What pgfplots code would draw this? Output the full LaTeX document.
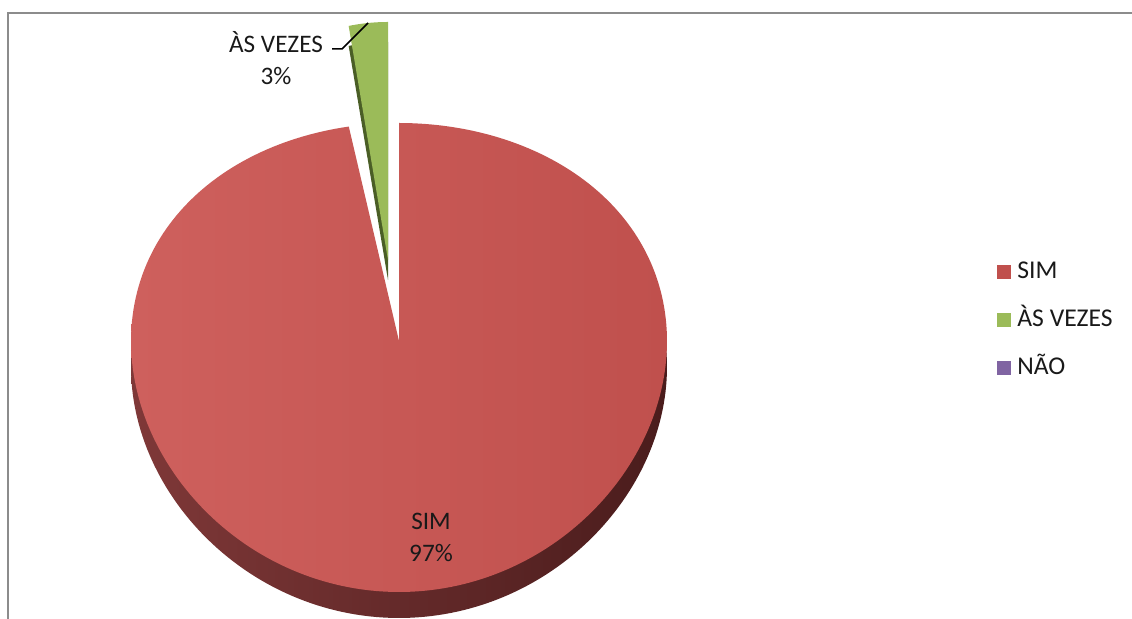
\documentclass[border=0pt]{standalone}
\usepackage{pgfplots}
\pgfplotsset{compat=1.18}
\usepackage{pgfplotstable}
\usepackage{fontspec}
\setmainfont{Carlito}

\definecolor{simred}{HTML}{C0504D}
\definecolor{simlight}{HTML}{CE605D}
\definecolor{simside}{HTML}{4A1C1C}
\definecolor{simsidemid}{HTML}{521F1F}
\definecolor{simsidelight}{HTML}{7F3838}
\definecolor{vezgreen}{HTML}{9BBB59}
\definecolor{vezside}{HTML}{4A5E26}
\definecolor{naopurple}{HTML}{8064A2}
\definecolor{framegray}{HTML}{8C8C8C}

\pgfplotstableread{
label value
SIM 97
VEZES 3
NAO 0
}\pietable

\begin{document}
\begin{tikzpicture}
\pgfplotstablegetelem{0}{value}\of\pietable \let\vSim\pgfplotsretval
\pgfplotstablegetelem{1}{value}\of\pietable \let\vVez\pgfplotsretval
\pgfmathsetmacro\aVez{90+3.6*\vVez}
\pgfmathsetmacro\aSimEnd{\aVez+3.6*\vSim}
\begin{axis}[
  width=566pt, height=309.5pt, scale only axis,
  xmin=0, xmax=1132, ymin=0, ymax=619,
  hide axis, clip=false,
  legend style={at={(axis cs:997,299)}, anchor=west, draw=none, fill=none,
    font=\fontsize{12.8}{14}\selectfont, row sep=13pt, column sep=3.2pt,
    inner sep=0pt, nodes={inner sep=0pt, text height=9pt, text depth=2pt, text=black!90}},
  legend cell align=left,
  legend image code/.code={\path[#1, draw=none] (0pt,-3.4pt) rectangle (6.8pt,3.4pt);},
]
% SIM side (depth)
\addplot[forget plot, draw=none, left color=simsidelight, middle color=simsidemid, right color=simside,
  domain=\aVez:\aSimEnd, samples=241]
  ({399+268*cos(x)}, {252+(234.5-16.5*sin(x))*sin(x)}) -- (axis cs:399,252) -- cycle;
% SIM top
\addplot[forget plot, draw=none, left color=simlight, right color=simred,
  domain=\aVez:\aSimEnd, samples=241]
  ({399+268*cos(x)}, {278+(234.5-16.5*sin(x))*sin(x)}) -- (axis cs:399,278) -- cycle;
% AS VEZES exploded side
\addplot[forget plot, draw=none, fill=vezside, domain=90:\aVez, samples=21]
  ({388+210*cos(x)}, {339+(254.5-16.5*sin(x))*sin(x)}) -- (axis cs:388,339) -- cycle;
% AS VEZES top
\addplot[forget plot, draw=none, fill=vezgreen, domain=90:\aVez, samples=21]
  ({388+210*cos(x)}, {359+(254.5-16.5*sin(x))*sin(x)}) -- (axis cs:388,359) -- cycle;

\addlegendimage{fill=simred, draw=none}\addlegendentry{SIM}
\addlegendimage{fill=vezgreen, draw=none}\addlegendentry{ÀS VEZES}
\addlegendimage{fill=naopurple, draw=none}\addlegendentry{NÃO}

\node[font=\fontsize{12.6}{16}\selectfont, align=center, text=black!90] at (axis cs:431,82) {SIM\\97\%};
\node[font=\fontsize{12.6}{16}\selectfont, align=center, text=black!90] at (axis cs:276,561) {ÀS VEZES\\3\%};
\draw[line width=0.75pt] (axis cs:332,570) -- (axis cs:342,570) -- (axis cs:368,596);
\draw[framegray, line width=1pt] (axis cs:8,-10) -- (axis cs:8,606) -- (axis cs:1145,606);
\end{axis}
\pgfresetboundingbox
\path[use as bounding box] (current axis.south west) rectangle (current axis.north east);
\end{tikzpicture}
\end{document}
